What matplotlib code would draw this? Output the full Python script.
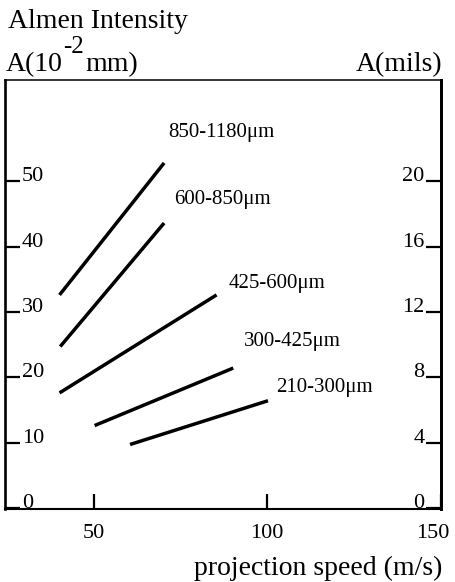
import matplotlib
matplotlib.use("Agg")
import matplotlib.pyplot as plt
from matplotlib.transforms import ScaledTranslation

plt.rcParams["font.family"] = ["Liberation Serif", "DejaVu Serif"]

# size fractions of the shot (um) and their line end points
size_labels = ["850-1180μm", "600-850μm", "425-600μm", "300-425μm", "210-300μm"]
speed_start = [40.2, 40.4, 40.2, 50.3, 60.5]
speed_end = [70.3, 70.3, 85.4, 90.2, 100.2]
intensity_start = [32.6, 24.7, 17.6, 12.6, 9.7]
intensity_end = [52.8, 43.6, 32.6, 21.4, 16.4]

# where each size label sits (data coords)
label_x = [71.5, 73.2, 89.0, 93.2, 102.6]
label_y = [57.5, 47.2, 34.4, 25.5, 18.4]

x_ticks = [50, 100, 150]
mm_ticks = [0, 10, 20, 30, 40, 50]
mils_ticks = [0, 4, 8, 12, 16, 20]
mm_per_mil = 2.5

W, H = 456, 582
fig = plt.figure(figsize=(W / 100, H / 100), dpi=100)
ax = fig.add_axes([5 / W, 1 - 508.5 / H, 436 / W, 428.5 / H])

for x0, x1, y0, y1 in zip(speed_start, speed_end, intensity_start, intensity_end):
    ax.plot([x0, x1], [y0, y1], color="black", lw=2.5, solid_capstyle="butt")

for text, x, y in zip(size_labels, label_x, label_y):
    ax.text(x, y, text, fontsize=15, ha="left", va="center")

ax.set_xlim(24.5, 150)
ax.set_ylim(-0.1, 65.5)
ax.set_xticks(x_ticks)
ax.set_xticklabels([str(t) for t in x_ticks])
ax.set_yticks(mm_ticks)
ax.set_yticklabels([str(t) for t in mm_ticks])

ax.tick_params(axis="x", direction="in", length=11, width=1.6,
               labelsize=16, pad=11)
ax.tick_params(axis="y", direction="in", length=11, width=1.6,
               labelsize=16, pad=-12)
for lab in ax.get_yticklabels():
    lab.set_ha("left")
    lab.set_va("baseline")

# the 150 label sits a little inside the right edge, as in the original
last = ax.get_xticklabels()[-1]
last.set_transform(last.get_transform()
                   + ScaledTranslation(-0.08, 0, fig.dpi_scale_trans))

ax.spines["left"].set_linewidth(1.9)
ax.spines["bottom"].set_linewidth(1.5)
ax.spines["top"].set_linewidth(1.1)
ax.spines["right"].set_linewidth(2.1)

# right hand scale in mils
ax2 = ax.twinx()
lo, hi = ax.get_ylim()
ax2.set_ylim(lo / mm_per_mil, hi / mm_per_mil)
ax2.set_yticks(mils_ticks)
ax2.set_yticklabels([str(t) for t in mils_ticks])
ax2.tick_params(axis="y", direction="in", length=11, width=1.6,
                labelsize=16, pad=-12)
for lab in ax2.get_yticklabels():
    lab.set_ha("right")
    lab.set_va("baseline")
for s in ["left", "top", "bottom"]:
    ax2.spines[s].set_visible(False)
ax2.spines["right"].set_linewidth(2.1)

# headings
fig.text(8 / W, 1 - 28 / H, "Almen Intensity", fontsize=20, ha="left", va="baseline")
fig.text(6 / W, 1 - 71 / H, "A(10", fontsize=20, ha="left", va="baseline")
fig.text(63 / W, 1 - 53 / H, "-2", fontsize=18, ha="left", va="baseline")
fig.text(85 / W, 1 - 71 / H, "mm)", fontsize=20, ha="left", va="baseline")
fig.text(442 / W, 1 - 71 / H, "A(mils)", fontsize=20, ha="right", va="baseline")
fig.text(442 / W, 1 - 575 / H, "projection speed (m/s)", fontsize=20,
         ha="right", va="baseline")

fig.savefig("out.png", dpi=100)
